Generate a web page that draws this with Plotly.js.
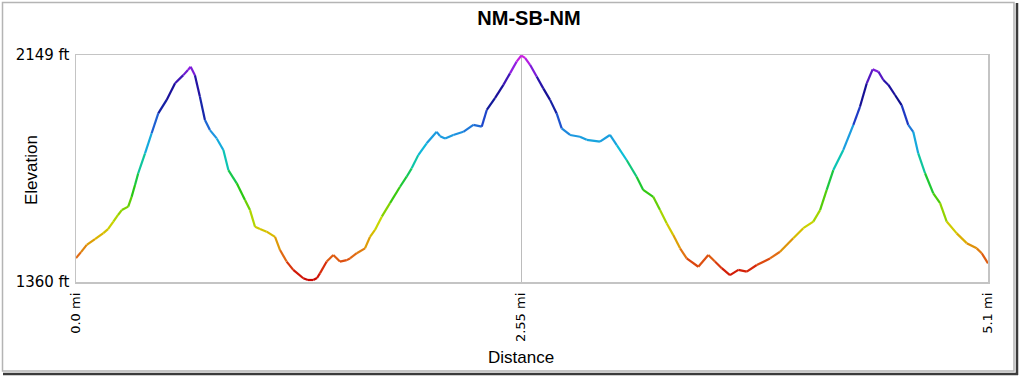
<!DOCTYPE html>
<html>
<head>
<meta charset="utf-8">
<script src="https://cdn.plot.ly/plotly-3.0.1.min.js"></script>
<style>
  html, body { margin: 0; padding: 0; background: #ffffff; }
  #chart { width: 1020px; height: 377px; }
</style>
</head>
<body>
<div id="chart"></div>
<script>
// ---- data ----
const chartTitle = "NM-SB-NM";
const xTitle = "Distance";
const yTitle = "Elevation";

const distanceMi = [
  0.000, 0.028, 0.060, 0.106, 0.153, 0.179, 0.209, 0.235, 0.256, 0.292,
  0.311, 0.330, 0.348, 0.386, 0.423, 0.460, 0.507, 0.554, 0.600, 0.626,
  0.641, 0.665, 0.693, 0.721, 0.749, 0.787, 0.824, 0.852, 0.899, 0.945,
  0.973, 1.001, 1.029, 1.066, 1.113, 1.141, 1.178, 1.215, 1.271, 1.297,
  1.327, 1.348, 1.364, 1.402, 1.439, 1.476, 1.514, 1.532, 1.570, 1.616,
  1.644, 1.672, 1.710, 1.756, 1.812, 1.849, 1.877, 1.914, 1.961, 2.017,
  2.036, 2.064, 2.110, 2.166, 2.222, 2.269, 2.297, 2.343, 2.390, 2.427,
  2.464, 2.490, 2.511, 2.539, 2.576, 2.613, 2.651, 2.688, 2.716, 2.763,
  2.818, 2.856, 2.930, 2.986, 3.024, 3.079, 3.135, 3.172, 3.228, 3.266,
  3.303, 3.340, 3.378, 3.415, 3.480, 3.536, 3.573, 3.611, 3.657, 3.704,
  3.751, 3.807, 3.881, 3.937, 4.011, 4.067, 4.123, 4.161, 4.198, 4.235,
  4.291, 4.347, 4.384, 4.422, 4.455, 4.487, 4.515, 4.543, 4.580, 4.617,
  4.654, 4.682, 4.710, 4.748, 4.794, 4.832, 4.869, 4.925, 4.981, 5.037,
  5.065, 5.100
];

const elevationFt = [
  1443, 1464, 1489, 1509, 1530, 1544, 1570, 1593, 1610, 1622,
  1656, 1697, 1738, 1807, 1877, 1946, 1993, 2051, 2079, 2097,
  2108, 2079, 2004, 1923, 1888, 1859, 1819, 1749, 1703, 1645,
  1610, 1552, 1544, 1535, 1517, 1471, 1431, 1402, 1373, 1367,
  1367, 1374, 1390, 1431, 1454, 1431, 1436, 1442, 1460, 1477,
  1517, 1541, 1587, 1634, 1691, 1726, 1755, 1801, 1842, 1882,
  1867, 1859, 1871, 1882, 1906, 1900, 1958, 1999, 2045, 2085,
  2126, 2147, 2139, 2115, 2074, 2033, 1993, 1946, 1894, 1871,
  1865, 1854, 1848, 1871, 1836, 1784, 1726, 1680, 1656, 1610,
  1564, 1523, 1477, 1442, 1413, 1454, 1431, 1408, 1384, 1402,
  1396, 1419, 1442, 1465, 1512, 1547, 1570, 1610, 1680, 1749,
  1819, 1906, 1969, 2051, 2099, 2091, 2062, 2045, 2010, 1975,
  1906, 1882, 1807, 1738, 1668, 1634, 1570, 1529, 1495, 1477,
  1460, 1425
];

const yTickVals = [1360, 2149];
const yTickText = ["1360 ft", "2149 ft"];
const xTickVals = [0, 2.49, 5.1];
const xTickText = ["0.0 mi", "2.55 mi", "5.1 mi"];

// ---- rainbow colour ramp (low = red, high = magenta) ----
const rampStops = [
  [0.00, [200, 0, 0]],
  [0.06, [215, 40, 10]],
  [0.12, [225, 110, 20]],
  [0.20, [220, 180, 0]],
  [0.26, [200, 215, 0]],
  [0.32, [130, 210, 0]],
  [0.40, [40, 200, 20]],
  [0.48, [20, 200, 90]],
  [0.56, [10, 195, 215]],
  [0.65, [30, 150, 225]],
  [0.73, [30, 60, 200]],
  [0.80, [15, 15, 140]],
  [0.88, [40, 20, 170]],
  [0.94, [140, 30, 225]],
  [1.00, [215, 30, 225]]
];
function rampColor(t) {
  t = Math.max(0, Math.min(1, t));
  for (let i = 1; i < rampStops.length; i++) {
    if (t <= rampStops[i][0]) {
      const [t0, c0] = rampStops[i - 1];
      const [t1, c1] = rampStops[i];
      const f = (t - t0) / (t1 - t0);
      const c = c0.map((v, k) => Math.round(v + (c1[k] - v) * f));
      return `rgb(${c[0]},${c[1]},${c[2]})`;
    }
  }
  const c = rampStops[rampStops.length - 1][1];
  return `rgb(${c[0]},${c[1]},${c[2]})`;
}

const yMin = yTickVals[0], yMax = yTickVals[1];
const traces = [];
for (let i = 0; i < distanceMi.length - 1; i++) {
  const mid = (elevationFt[i] + elevationFt[i + 1]) / 2;
  traces.push({
    type: "scatter",
    mode: "lines",
    x: [distanceMi[i], distanceMi[i + 1]],
    y: [elevationFt[i], elevationFt[i + 1]],
    line: { color: rampColor((mid - yMin) / (yMax - yMin)), width: 2.2 },
    showlegend: false,
    hoverinfo: "skip"
  });
}

const layout = {
  width: 1020,
  height: 377,
  margin: { l: 76, r: 32, t: 55, b: 95 },
  paper_bgcolor: "#ffffff",
  plot_bgcolor: "#ffffff",
  showlegend: false,
  title: {
    text: "<b>" + chartTitle + "</b>",
    font: { family: "Liberation Sans, Arial, sans-serif", size: 20, color: "#000000" },
    x: 0.4967, xref: "paper", xanchor: "center",
    y: 0.952, yref: "container", yanchor: "middle"
  },
  xaxis: {
    range: [0, 5.1],
    tickmode: "array",
    tickvals: xTickVals,
    ticktext: xTickText,
    tickangle: -90,
    ticks: "",
    ticklabelstandoff: 4,
    tickfont: { family: "DejaVu Sans, Verdana, sans-serif", size: 13, color: "#000000" },
    showgrid: true,
    gridcolor: "#bcbcbc",
    gridwidth: 1,
    zeroline: false,
    showline: true,
    mirror: true,
    linecolor: "#c4c4c4",
    linewidth: 1.5,
    fixedrange: true
  },
  yaxis: {
    range: [yMin, yMax],
    tickmode: "array",
    tickvals: yTickVals,
    ticktext: yTickText,
    ticks: "",
    ticklabelstandoff: 2,
    tickfont: { family: "DejaVu Sans, Verdana, sans-serif", size: 15, color: "#000000" },
    showgrid: false,
    zeroline: false,
    showline: true,
    mirror: true,
    linecolor: "#c4c4c4",
    linewidth: 1.5,
    fixedrange: true
  },
  annotations: [
    {
      text: yTitle, xref: "paper", yref: "paper",
      x: -0.0494, y: 0.493, xanchor: "center", yanchor: "middle",
      textangle: -90, showarrow: false,
      font: { family: "Liberation Sans, Arial, sans-serif", size: 17, color: "#000000" }
    },
    {
      text: xTitle, xref: "paper", yref: "paper",
      x: 0.4879, y: -0.334, xanchor: "center", yanchor: "middle",
      showarrow: false,
      font: { family: "Liberation Sans, Arial, sans-serif", size: 17, color: "#000000" }
    }
  ],
  shapes: [
    {
      type: "rect", xref: "paper", yref: "paper",
      x0: -0.08059, x1: 1.02851, y0: -0.39207, y1: 1.23128,
      line: { color: "#b4b4b4", width: 1.5 }, layer: "above"
    },
    {
      type: "line", xref: "paper", yref: "paper",
      x0: -0.08004, x1: 1.03289, y0: -0.40529, y1: -0.40529,
      line: { color: "#3c3c3c", width: 2.5 }, layer: "above"
    },
    {
      type: "line", xref: "paper", yref: "paper",
      x0: 1.03180, x1: 1.03180, y0: 1.22907, y1: -0.40969,
      line: { color: "#3c3c3c", width: 2.5 }, layer: "above"
    }
  ]
};

Plotly.newPlot("chart", traces, layout, { staticPlot: true, displayModeBar: false });
</script>
</body>
</html>
